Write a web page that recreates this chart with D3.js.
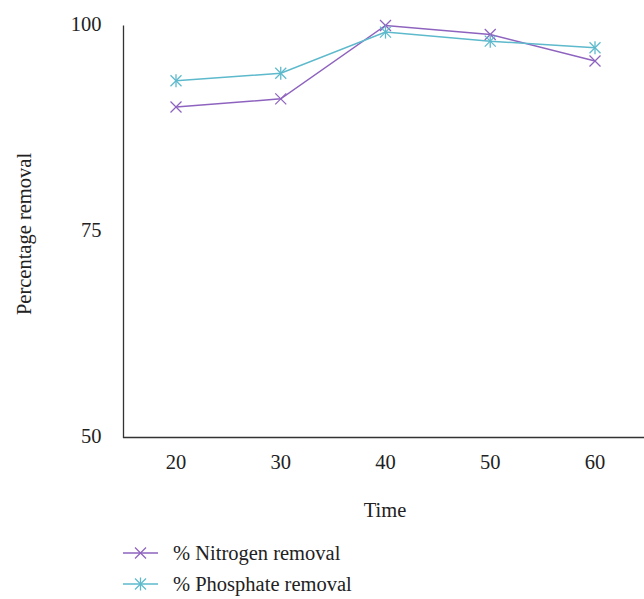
<!DOCTYPE html>
<html><head><meta charset="utf-8">
<script src="https://cdn.jsdelivr.net/npm/d3@7"></script>
<style>body{margin:0;background:#fff}svg{display:block}text{font-family:"Liberation Serif","DejaVu Serif",serif;fill:#222}</style>
</head><body>
<script>
const categories = ["20","30","40","50","60"];
const nitrogen = [90.1, 91.1, 100.0, 98.9, 95.7];
const phosphate = [93.3, 94.2, 99.2, 98.1, 97.3];
const yTicks = [50, 75, 100];
const seriesNames = ["% Nitrogen removal", "% Phosphate removal"];
const colors = ["#8e63bf", "#5db9cc"];

const W = 644, H = 599, FS = 20.5;
const svg = d3.select("body").append("svg").attr("width", W).attr("height", H);
const x = d3.scalePoint().domain(categories).range([176, 595]);
const y = d3.scaleLinear().domain([50, 100]).range([437.5, 25.5]);

// axes lines
svg.append("line").attr("x1",123.5).attr("x2",123.5).attr("y1",y(100)).attr("y2",y(50)+0.5).attr("stroke","#333").attr("stroke-width",1.3);
svg.append("line").attr("x1",123).attr("x2",644).attr("y1",y(50)).attr("y2",y(50)).attr("stroke","#333").attr("stroke-width",1.3);

// y tick labels
svg.selectAll(".yt").data(yTicks).enter().append("text")
  .attr("x",101.5).attr("y",d=>y(d)+5).attr("text-anchor","end").attr("font-size",FS).text(d=>d);
// x tick labels
svg.selectAll(".xt").data(categories).enter().append("text")
  .attr("x",d=>x(d)).attr("y",469).attr("text-anchor","middle").attr("font-size",FS).text(d=>d);

svg.append("text").attr("x",385).attr("y",517).attr("text-anchor","middle").attr("font-size",FS).text("Time");
svg.append("text").attr("transform","translate(31,234) rotate(-90)").attr("text-anchor","middle").attr("font-size",FS).text("Percentage removal");

function cross(g, cx, cy, r, color, star){
  g.append("line").attr("x1",cx-r).attr("x2",cx+r).attr("y1",cy-r).attr("y2",cy+r).attr("stroke",color).attr("stroke-width",1.3);
  g.append("line").attr("x1",cx-r).attr("x2",cx+r).attr("y1",cy+r).attr("y2",cy-r).attr("stroke",color).attr("stroke-width",1.3);
  if(star) g.append("line").attr("x1",cx).attr("x2",cx).attr("y1",cy-r-1).attr("y2",cy+r+1).attr("stroke",color).attr("stroke-width",1.3);
}

const line = d3.line().x((d,i)=>x(categories[i])).y(d=>y(d));
[nitrogen, phosphate].forEach((s,k)=>{
  const g = svg.append("g");
  g.append("path").attr("d",line(s)).attr("fill","none").attr("stroke",colors[k]).attr("stroke-width",1.5);
  s.forEach((v,i)=>cross(g, x(categories[i]), y(v), 5.5, colors[k], k===1));
});

// legend
seriesNames.forEach((n,k)=>{
  const ly = 553 + k*31;
  const g = svg.append("g");
  g.append("line").attr("x1",123).attr("x2",158).attr("y1",ly).attr("y2",ly).attr("stroke",colors[k]).attr("stroke-width",1.5);
  cross(g, 140.5, ly, 5.5, colors[k], k===1);
  g.append("text").attr("x",173).attr("y",ly+7).attr("font-size",FS).text(n);
});
</script>
</body></html>
